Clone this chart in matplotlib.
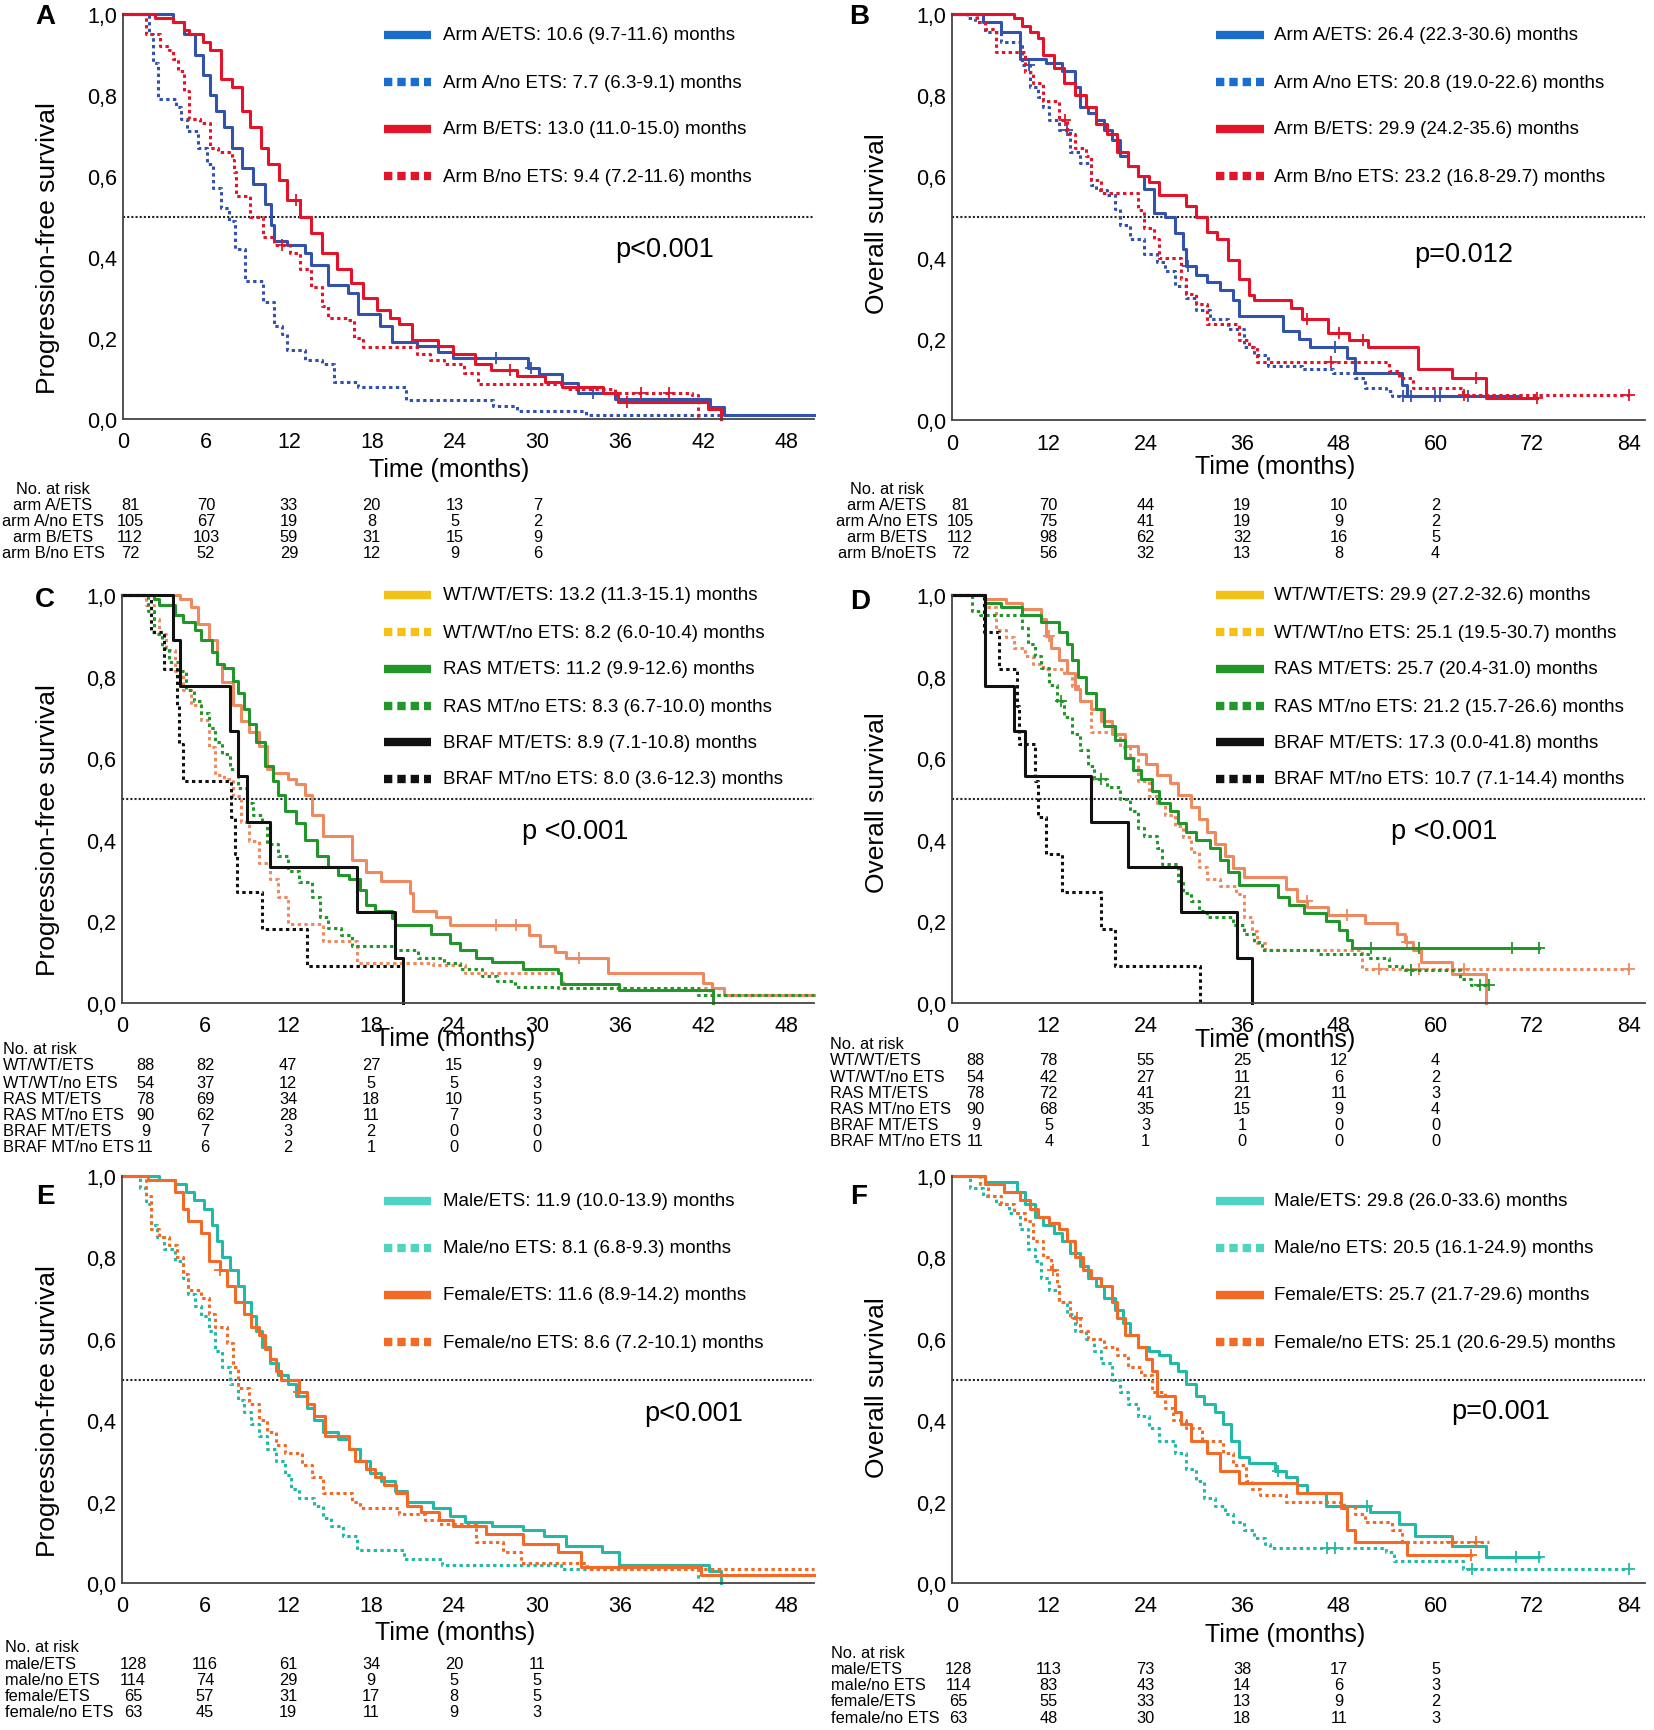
import matplotlib
matplotlib.use("Agg")
import matplotlib.pyplot as plt
from matplotlib.lines import Line2D
from matplotlib import transforms

W, H = 1654, 1731
plt.rcParams['font.family'] = ['Liberation Sans', 'DejaVu Sans']

# ---------------- Kaplan-Meier curves, (months, survival) -----------------
# Panel A: progression-free survival by arm / ETS
pfs_armA_ets = [(0, 1.0), (3.6, 0.98), (4.4, 0.95), (5.2, 0.90), (5.8, 0.85), (6.3, 0.80), (6.7, 0.76),
                (7.3, 0.72), (7.9, 0.67), (8.6, 0.62), (9.4, 0.58), (10.3, 0.53), (10.7, 0.48), (10.9, 0.44),
                (11.9, 0.43), (13.2, 0.41), (13.6, 0.38), (14.8, 0.33), (16.3, 0.31), (17.0, 0.26), (18.6, 0.23),
                (19.5, 0.19), (21.3, 0.18), (22.8, 0.165), (23.9, 0.15), (29.3, 0.125), (30.1, 0.11), (31.8, 0.09),
                (32.9, 0.065), (35.6, 0.05), (42.5, 0.03), (43.5, 0.01), (50.0, 0.01)]
pfs_armA_noets = [(0, 1.0), (1.9, 0.95), (2.2, 0.88), (2.5, 0.79), (3.8, 0.77), (4.2, 0.74), (4.6, 0.71),
                  (5.4, 0.67), (6.1, 0.63), (6.5, 0.57), (7.1, 0.52), (7.7, 0.49), (8.1, 0.42), (8.8, 0.34),
                  (10.1, 0.29), (10.9, 0.23), (11.5, 0.21), (11.9, 0.17), (13.2, 0.146), (14.4, 0.137),
                  (15.3, 0.092), (17.0, 0.078), (20.5, 0.047), (26.8, 0.033), (28.5, 0.02), (33.5, 0.011), (50.0, 0.011)]
pfs_armB_ets = [(0, 1.0), (2.3, 0.99), (3.6, 0.98), (4.4, 0.96), (4.8, 0.95), (5.8, 0.93), (6.3, 0.91),
                (7.1, 0.84), (7.9, 0.82), (8.6, 0.76), (9.2, 0.72), (10.0, 0.67), (10.5, 0.63), (11.3, 0.59),
                (11.9, 0.54), (12.8, 0.50), (13.6, 0.46), (14.4, 0.41), (15.5, 0.37), (16.5, 0.335), (17.4, 0.30),
                (18.4, 0.27), (19.3, 0.25), (20.0, 0.235), (20.9, 0.195), (22.8, 0.18), (23.9, 0.16), (25.5, 0.137),
                (26.6, 0.12), (28.5, 0.105), (30.5, 0.092), (31.8, 0.078), (34.7, 0.065), (35.8, 0.042),
                (42.3, 0.024), (43.3, 0.0)]
pfs_armB_noets = [(0, 1.0), (1.7, 0.95), (2.7, 0.92), (3.3, 0.91), (3.6, 0.89), (4.0, 0.86), (4.4, 0.81),
                  (4.8, 0.74), (5.6, 0.73), (6.3, 0.67), (6.9, 0.66), (7.9, 0.64), (8.0, 0.61), (8.2, 0.55),
                  (9.2, 0.50), (10.1, 0.45), (10.9, 0.43), (12.1, 0.41), (12.8, 0.37), (13.6, 0.325), (14.4, 0.28),
                  (14.8, 0.25), (16.3, 0.245), (16.7, 0.20), (17.4, 0.177), (21.3, 0.16), (22.2, 0.146),
                  (23.2, 0.137), (24.7, 0.114), (25.7, 0.087), (32.0, 0.074), (35.6, 0.065), (41.2, 0.06), (41.6, 0.0)]

# Panel B: overall survival by arm / ETS
os_armA_ets = [(0, 1.0), (3.8, 0.98), (6.1, 0.955), (8.4, 0.89), (11.7, 0.88), (13.6, 0.86), (15.3, 0.82),
               (15.9, 0.77), (16.9, 0.755), (17.9, 0.74), (18.9, 0.714), (19.8, 0.69), (20.8, 0.65), (21.8, 0.625),
               (23.1, 0.60), (23.8, 0.57), (25.1, 0.51), (26.4, 0.50), (27.7, 0.46), (28.7, 0.42), (29.0, 0.38),
               (30.3, 0.357), (31.6, 0.34), (33.3, 0.32), (34.9, 0.295), (35.6, 0.255), (41.1, 0.22), (43.1, 0.20),
               (44.4, 0.18), (49.0, 0.152), (50.0, 0.116), (55.9, 0.085), (56.5, 0.058), (70.3, 0.058)]
os_armA_noets = [(0, 1.0), (1.8, 0.99), (2.8, 0.98), (4.1, 0.955), (6.1, 0.93), (8.7, 0.875), (9.7, 0.82),
                 (10.7, 0.795), (11.3, 0.77), (12.0, 0.74), (13.3, 0.714), (14.6, 0.66), (15.9, 0.634),
                 (17.2, 0.58), (17.9, 0.567), (19.2, 0.554), (20.2, 0.52), (20.8, 0.48), (22.1, 0.446),
                 (23.8, 0.41), (25.4, 0.39), (26.4, 0.366), (27.7, 0.33), (29.0, 0.30), (30.3, 0.27), (32.0, 0.25),
                 (34.2, 0.223), (36.2, 0.18), (37.5, 0.16), (39.2, 0.134), (43.4, 0.125), (47.3, 0.116),
                 (50.0, 0.103), (51.3, 0.08), (53.9, 0.071), (54.6, 0.058), (63.1, 0.058)]
os_armB_ets = [(0, 1.0), (7.7, 0.99), (8.7, 0.97), (9.7, 0.955), (10.7, 0.94), (11.3, 0.90), (12.6, 0.866),
               (13.9, 0.83), (15.3, 0.80), (16.6, 0.77), (17.9, 0.73), (19.2, 0.705), (20.5, 0.66), (21.8, 0.625),
               (23.1, 0.60), (24.4, 0.585), (25.7, 0.554), (29.0, 0.527), (30.3, 0.50), (31.6, 0.464),
               (32.9, 0.446), (34.2, 0.393), (35.6, 0.348), (36.9, 0.308), (37.5, 0.295), (42.1, 0.277),
               (43.4, 0.25), (46.7, 0.214), (49.3, 0.196), (51.6, 0.179), (57.8, 0.125), (62.1, 0.103),
               (66.3, 0.054), (72.6, 0.054)]
os_armB_noets = [(0, 1.0), (3.1, 0.98), (4.1, 0.964), (5.4, 0.906), (9.0, 0.857), (10.0, 0.83), (11.3, 0.786),
                 (13.3, 0.74), (14.3, 0.705), (15.3, 0.67), (16.6, 0.65), (17.2, 0.59), (18.5, 0.56),
                 (23.1, 0.518), (23.8, 0.473), (25.1, 0.446), (25.7, 0.40), (28.4, 0.348), (29.0, 0.31),
                 (30.3, 0.286), (31.6, 0.237), (35.6, 0.196), (36.9, 0.179), (37.9, 0.143), (54.2, 0.12),
                 (55.5, 0.103), (57.2, 0.08), (63.4, 0.0625), (84.0, 0.0625)]

# Panel C: PFS by mutation status / ETS
pfs_wt_ets = [(0, 1.0), (4.2, 0.99), (5.0, 0.97), (5.5, 0.93), (6.3, 0.89), (6.9, 0.83), (7.25, 0.786),
              (8.0, 0.73), (8.6, 0.69), (9.2, 0.665), (9.9, 0.63), (10.5, 0.573), (10.9, 0.564), (12.0, 0.55),
              (12.6, 0.536), (13.2, 0.51), (13.7, 0.46), (14.5, 0.41), (16.6, 0.35), (17.6, 0.32), (18.7, 0.30),
              (20.8, 0.27), (21.0, 0.226), (22.7, 0.21), (23.7, 0.19), (29.4, 0.166), (30.2, 0.14), (31.3, 0.125),
              (32.1, 0.11), (35.1, 0.074), (42.0, 0.05), (42.6, 0.037), (43.5, 0.02), (50.0, 0.02)]
pfs_wt_noets = [(0, 1.0), (1.7, 0.975), (2.3, 0.94), (2.7, 0.905), (3.2, 0.864), (3.8, 0.813), (4.4, 0.767),
                (5.0, 0.73), (5.7, 0.693), (6.3, 0.628), (6.7, 0.56), (7.4, 0.55), (8.0, 0.508), (8.6, 0.444),
                (9.2, 0.397), (9.9, 0.342), (10.7, 0.305), (11.3, 0.26), (12.0, 0.194), (14.5, 0.152),
                (17.0, 0.097), (22.5, 0.092), (24.8, 0.074), (31.7, 0.06), (31.9, 0.037), (42.5, 0.02), (50.0, 0.02)]
pfs_ras_ets = [(0, 1.0), (2.3, 0.99), (2.7, 0.975), (3.8, 0.95), (4.4, 0.933), (5.3, 0.915), (5.7, 0.89),
               (6.5, 0.86), (6.9, 0.83), (7.4, 0.82), (8.0, 0.79), (8.4, 0.76), (8.8, 0.72), (9.2, 0.684),
               (9.7, 0.64), (10.3, 0.58), (10.9, 0.545), (11.3, 0.51), (11.8, 0.47), (12.6, 0.44), (13.2, 0.40),
               (14.1, 0.36), (14.9, 0.333), (15.6, 0.314), (16.4, 0.305), (17.2, 0.277), (17.6, 0.24),
               (18.3, 0.226), (19.5, 0.208), (19.7, 0.19), (22.3, 0.17), (23.7, 0.148), (24.4, 0.13),
               (25.6, 0.11), (26.7, 0.10), (29.0, 0.083), (31.5, 0.074), (31.7, 0.046), (35.9, 0.032), (42.7, 0.0)]
pfs_ras_noets = [(0, 1.0), (1.9, 0.96), (2.3, 0.905), (2.9, 0.87), (3.4, 0.836), (4.2, 0.813), (4.6, 0.767),
                 (5.2, 0.74), (5.7, 0.71), (6.3, 0.675), (6.7, 0.64), (7.25, 0.61), (7.8, 0.573), (8.4, 0.527),
                 (9.0, 0.49), (9.5, 0.462), (10.1, 0.444), (10.5, 0.39), (11.3, 0.36), (12.0, 0.323),
                 (12.8, 0.296), (13.7, 0.26), (14.3, 0.21), (14.9, 0.185), (15.8, 0.166), (16.6, 0.14),
                 (19.7, 0.13), (21.4, 0.11), (23.3, 0.097), (24.4, 0.083), (26.0, 0.065), (27.1, 0.055),
                 (28.4, 0.04), (31.5, 0.037), (41.6, 0.02), (50.0, 0.02)]
pfs_braf_ets = [(0, 1.0), (3.7, 0.889), (4.2, 0.778), (7.8, 0.667), (8.4, 0.556), (9.0, 0.444),
                (10.7, 0.333), (17.0, 0.222), (19.7, 0.111), (20.3, 0.0)]
pfs_braf_noets = [(0, 1.0), (2.1, 0.909), (3.0, 0.818), (4.0, 0.727), (4.1, 0.636), (4.4, 0.545), (7.9, 0.455),
                  (8.2, 0.364), (8.3, 0.273), (10.1, 0.182), (13.4, 0.091), (20.2, 0.091)]

# Panel D: OS by mutation status / ETS
os_wt_ets = [(0, 1.0), (4.1, 0.99), (6.7, 0.98), (8.7, 0.965), (11.0, 0.94), (11.7, 0.90), (12.3, 0.87),
             (13.3, 0.84), (14.3, 0.81), (15.3, 0.77), (15.9, 0.74), (17.2, 0.72), (18.5, 0.69), (19.8, 0.66),
             (21.5, 0.63), (23.1, 0.61), (24.1, 0.585), (25.4, 0.56), (27.0, 0.54), (28.0, 0.51), (29.7, 0.48),
             (30.6, 0.45), (31.6, 0.42), (32.6, 0.39), (33.9, 0.36), (34.9, 0.33), (36.2, 0.31), (41.5, 0.28),
             (42.8, 0.25), (44.1, 0.235), (46.7, 0.215), (51.3, 0.195), (55.2, 0.17), (56.2, 0.15),
             (57.2, 0.13), (58.2, 0.10), (62.1, 0.07), (66.3, 0.0)]
os_wt_noets = [(0, 1.0), (4.1, 0.97), (5.4, 0.915), (6.7, 0.896), (7.7, 0.869), (9.0, 0.85), (10.0, 0.83),
               (11.3, 0.818), (13.9, 0.81), (14.9, 0.776), (15.9, 0.74), (17.2, 0.665), (19.8, 0.656),
               (20.8, 0.628), (22.1, 0.60), (23.1, 0.545), (24.4, 0.508), (25.4, 0.49), (26.4, 0.462),
               (27.7, 0.434), (28.7, 0.407), (29.7, 0.37), (30.6, 0.333), (31.6, 0.305), (33.3, 0.287),
               (35.2, 0.268), (36.2, 0.21), (37.2, 0.176), (37.9, 0.148), (38.8, 0.13), (50.9, 0.083), (84.0, 0.083)]
os_ras_ets = [(0, 1.0), (4.1, 0.98), (6.1, 0.97), (8.7, 0.95), (11.0, 0.935), (13.3, 0.91), (14.3, 0.88),
              (14.9, 0.84), (15.6, 0.80), (16.6, 0.76), (17.9, 0.72), (18.9, 0.68), (20.2, 0.645), (21.5, 0.60),
              (22.5, 0.57), (23.4, 0.55), (24.8, 0.52), (25.7, 0.49), (27.0, 0.47), (28.0, 0.44), (29.0, 0.42),
              (30.3, 0.40), (32.0, 0.38), (33.3, 0.35), (34.2, 0.32), (35.6, 0.29), (40.5, 0.26), (41.8, 0.24),
              (43.7, 0.22), (46.4, 0.20), (48.0, 0.18), (49.0, 0.155), (49.6, 0.135), (72.9, 0.135)]
os_ras_noets = [(0, 1.0), (2.5, 0.96), (3.5, 0.95), (8.7, 0.92), (9.4, 0.88), (10.3, 0.85), (11.0, 0.82),
                (12.0, 0.78), (13.0, 0.74), (13.9, 0.70), (14.9, 0.66), (15.9, 0.62), (16.9, 0.58), (17.6, 0.55),
                (19.2, 0.53), (20.8, 0.50), (22.1, 0.47), (23.1, 0.43), (23.8, 0.41), (25.4, 0.38), (26.1, 0.34),
                (28.0, 0.30), (28.7, 0.27), (29.7, 0.25), (30.6, 0.225), (31.6, 0.21), (34.9, 0.19), (36.2, 0.17),
                (37.5, 0.15), (38.5, 0.13), (45.4, 0.12), (51.6, 0.11), (54.2, 0.09), (55.9, 0.08), (63.1, 0.06),
                (64.4, 0.045), (66.7, 0.045)]
os_braf_ets = [(0, 1.0), (4.1, 0.778), (7.7, 0.667), (9.0, 0.556), (17.2, 0.444), (21.8, 0.333),
               (28.4, 0.222), (35.4, 0.111), (37.2, 0.0)]
os_braf_noets = [(0, 1.0), (4.0, 0.909), (5.8, 0.818), (8.1, 0.727), (8.3, 0.636), (10.3, 0.545), (10.7, 0.455),
                 (11.7, 0.364), (13.6, 0.273), (18.5, 0.182), (20.2, 0.091), (30.8, 0.0)]

# Panel E: PFS by sex / ETS
pfs_male_ets = [(0, 1.0), (2.7, 0.99), (3.8, 0.98), (4.6, 0.96), (5.2, 0.94), (5.9, 0.92), (6.5, 0.88),
                (6.9, 0.84), (7.25, 0.80), (7.8, 0.77), (8.4, 0.73), (8.8, 0.69), (9.35, 0.655), (9.7, 0.62),
                (10.1, 0.58), (10.7, 0.54), (11.3, 0.51), (12.0, 0.49), (12.6, 0.46), (13.4, 0.43), (13.9, 0.40),
                (14.5, 0.37), (15.6, 0.355), (16.4, 0.33), (17.2, 0.30), (17.9, 0.27), (18.7, 0.25), (19.7, 0.225),
                (20.6, 0.20), (22.5, 0.185), (23.7, 0.165), (24.8, 0.15), (26.7, 0.14), (29.0, 0.13),
                (30.5, 0.115), (32.1, 0.09), (34.7, 0.075), (35.9, 0.045), (42.4, 0.03), (43.3, 0.0)]
pfs_male_noets = [(0, 1.0), (1.3, 0.97), (1.7, 0.93), (2.1, 0.88), (2.5, 0.85), (3.05, 0.82), (3.8, 0.79),
                  (4.4, 0.75), (4.8, 0.71), (5.3, 0.68), (5.7, 0.655), (6.3, 0.62), (6.7, 0.57), (7.25, 0.53),
                  (7.8, 0.49), (8.4, 0.45), (8.8, 0.42), (9.35, 0.39), (9.9, 0.36), (10.5, 0.33), (11.1, 0.30),
                  (11.8, 0.265), (12.2, 0.23), (12.8, 0.21), (13.9, 0.19), (14.5, 0.16), (15.1, 0.14),
                  (16.0, 0.115), (17.0, 0.08), (20.4, 0.06), (23.1, 0.045), (31.7, 0.035), (41.6, 0.0)]
pfs_female_ets = [(0, 1.0), (1.9, 0.99), (3.8, 0.96), (4.4, 0.92), (4.8, 0.89), (5.7, 0.86), (6.3, 0.79),
                  (7.1, 0.77), (7.6, 0.73), (8.2, 0.69), (8.8, 0.66), (9.35, 0.63), (9.9, 0.61), (10.3, 0.575),
                  (10.7, 0.55), (11.1, 0.52), (11.5, 0.50), (12.8, 0.47), (13.4, 0.44), (13.9, 0.41), (14.7, 0.36),
                  (16.4, 0.33), (16.8, 0.30), (17.6, 0.28), (18.3, 0.26), (18.9, 0.24), (19.8, 0.22), (20.6, 0.19),
                  (21.6, 0.175), (22.9, 0.155), (23.9, 0.14), (26.3, 0.12), (29.0, 0.095), (31.5, 0.075),
                  (33.2, 0.04), (41.8, 0.02), (50.0, 0.02)]
pfs_female_noets = [(0, 1.0), (1.7, 0.95), (2.1, 0.87), (2.7, 0.85), (3.4, 0.83), (4.0, 0.80), (4.4, 0.76),
                    (4.8, 0.72), (5.7, 0.70), (6.3, 0.66), (6.7, 0.63), (7.6, 0.59), (8.0, 0.53), (8.4, 0.48),
                    (9.2, 0.44), (9.9, 0.40), (10.5, 0.37), (11.1, 0.34), (11.8, 0.32), (13.0, 0.29), (13.7, 0.26),
                    (14.5, 0.22), (16.6, 0.20), (17.2, 0.185), (20.0, 0.17), (21.9, 0.155), (22.9, 0.145),
                    (25.6, 0.10), (27.5, 0.075), (28.8, 0.05), (33.6, 0.035), (50.0, 0.035)]

# Panel F: OS by sex / ETS
os_male_ets = [(0, 1.0), (4.1, 0.985), (8.1, 0.96), (9.0, 0.93), (10.3, 0.90), (11.3, 0.88), (12.6, 0.86),
               (13.6, 0.84), (14.6, 0.81), (15.9, 0.78), (16.9, 0.75), (17.9, 0.73), (18.9, 0.70), (20.2, 0.67),
               (21.2, 0.64), (22.1, 0.61), (23.1, 0.58), (24.4, 0.57), (25.7, 0.56), (27.0, 0.54), (28.0, 0.52),
               (29.0, 0.49), (30.3, 0.46), (31.3, 0.44), (32.6, 0.42), (33.6, 0.39), (34.6, 0.35), (35.6, 0.31),
               (36.9, 0.295), (40.1, 0.275), (41.5, 0.26), (42.8, 0.24), (44.1, 0.22), (46.4, 0.19),
               (51.9, 0.175), (55.5, 0.145), (57.5, 0.115), (62.1, 0.09), (66.3, 0.065), (72.9, 0.065)]
os_male_noets = [(0, 1.0), (2.2, 0.97), (3.8, 0.95), (5.4, 0.93), (7.1, 0.91), (8.4, 0.87), (9.4, 0.82),
                 (10.3, 0.79), (11.0, 0.75), (12.0, 0.72), (13.3, 0.69), (14.3, 0.66), (15.3, 0.62), (16.6, 0.60),
                 (17.6, 0.57), (18.5, 0.54), (19.8, 0.50), (20.8, 0.47), (21.8, 0.44), (23.1, 0.41), (24.4, 0.38),
                 (25.7, 0.35), (27.7, 0.32), (29.0, 0.28), (30.3, 0.25), (31.3, 0.21), (32.6, 0.19), (33.9, 0.17),
                 (34.9, 0.15), (36.2, 0.13), (37.5, 0.11), (38.8, 0.095), (39.5, 0.085), (53.9, 0.075),
                 (54.9, 0.055), (63.4, 0.035), (84.0, 0.035)]
os_female_ets = [(0, 1.0), (4.1, 0.98), (6.4, 0.96), (8.4, 0.94), (9.7, 0.92), (10.7, 0.90), (12.0, 0.885),
                 (13.3, 0.87), (14.3, 0.84), (15.3, 0.80), (16.2, 0.77), (17.2, 0.75), (18.5, 0.73), (19.8, 0.69),
                 (20.5, 0.65), (21.5, 0.61), (23.1, 0.58), (24.1, 0.55), (24.8, 0.52), (25.4, 0.46), (27.7, 0.42),
                 (28.4, 0.39), (29.7, 0.35), (31.6, 0.32), (33.3, 0.275), (35.6, 0.245), (42.8, 0.22),
                 (48.3, 0.185), (49.0, 0.13), (50.0, 0.10), (56.5, 0.07), (64.4, 0.07)]
os_female_noets = [(0, 1.0), (3.5, 0.98), (4.5, 0.95), (6.1, 0.93), (7.7, 0.91), (9.0, 0.89), (10.0, 0.84),
                   (11.3, 0.80), (12.3, 0.77), (13.0, 0.73), (13.3, 0.69), (14.6, 0.65), (15.9, 0.62),
                   (16.9, 0.60), (18.9, 0.58), (20.5, 0.56), (21.8, 0.53), (23.5, 0.51), (24.8, 0.47),
                   (26.4, 0.43), (27.4, 0.40), (29.0, 0.38), (31.0, 0.35), (33.6, 0.32), (34.9, 0.29),
                   (36.5, 0.25), (37.2, 0.23), (38.2, 0.215), (41.5, 0.20), (48.7, 0.19), (50.0, 0.17),
                   (51.3, 0.15), (54.6, 0.13), (55.9, 0.10), (66.7, 0.10)]

# censored observations (months) shown as "+" on some curves
cens_pfs_armA_ets = [27.0, 29.5, 34.0]
cens_pfs_armB_ets = [12.5, 28.0, 36.5]
cens_pfs_armB_noets = [11.5, 37.5, 39.5]
cens_os_armA_ets = [29.3, 47.5, 57.0, 60.0, 64.0]
cens_os_armA_noets = [9.5, 14.3, 56.0, 60.5]
cens_os_armB_ets = [44.0, 48.0, 51.0, 65.0, 72.6]
cens_os_armB_noets = [14.0, 47.0, 63.5, 84.0]
cens_pfs_wt_ets = [27.0, 28.5, 33.0]
cens_os_wt_ets = [12.0, 44.0, 49.0, 56.5]
cens_os_wt_noets = [53.0, 58.0, 63.5, 84.0]
cens_os_ras_ets = [52.0, 58.0, 69.5, 72.9]
cens_os_ras_noets = [13.5, 18.5, 57.0, 65.5, 66.7]
cens_pfs_female_ets = [7.1, 12.8]
cens_os_male_ets = [40.5, 51.5, 70.0, 72.9]
cens_os_male_noets = [46.5, 47.5, 64.5, 84.0]
cens_os_female_ets = [64.4]
cens_os_female_noets = [12.5, 15.5, 62.0, 65.0]

# ---------------- legends, p values, risk tables -----------------
legend_A = ["Arm A/ETS: 10.6 (9.7-11.6) months", "Arm A/no ETS: 7.7 (6.3-9.1) months",
            "Arm B/ETS: 13.0 (11.0-15.0) months", "Arm B/no ETS: 9.4 (7.2-11.6) months"]
legend_B = ["Arm A/ETS: 26.4 (22.3-30.6) months", "Arm A/no ETS: 20.8 (19.0-22.6) months",
            "Arm B/ETS: 29.9 (24.2-35.6) months", "Arm B/no ETS: 23.2 (16.8-29.7) months"]
legend_C = ["WT/WT/ETS: 13.2 (11.3-15.1) months", "WT/WT/no ETS: 8.2 (6.0-10.4) months",
            "RAS MT/ETS: 11.2 (9.9-12.6) months", "RAS MT/no ETS: 8.3 (6.7-10.0) months",
            "BRAF MT/ETS: 8.9 (7.1-10.8) months", "BRAF MT/no ETS: 8.0 (3.6-12.3) months"]
legend_D = ["WT/WT/ETS: 29.9 (27.2-32.6) months", "WT/WT/no ETS: 25.1 (19.5-30.7) months",
            "RAS MT/ETS: 25.7 (20.4-31.0) months", "RAS MT/no ETS: 21.2 (15.7-26.6) months",
            "BRAF MT/ETS: 17.3 (0.0-41.8) months", "BRAF MT/no ETS: 10.7 (7.1-14.4) months"]
legend_E = ["Male/ETS: 11.9 (10.0-13.9) months", "Male/no ETS: 8.1 (6.8-9.3) months",
            "Female/ETS: 11.6 (8.9-14.2) months", "Female/no ETS: 8.6 (7.2-10.1) months"]
legend_F = ["Male/ETS: 29.8 (26.0-33.6) months", "Male/no ETS: 20.5 (16.1-24.9) months",
            "Female/ETS: 25.7 (21.7-29.6) months", "Female/no ETS: 25.1 (20.6-29.5) months"]
pvalues = ["p<0.001", "p=0.012", "p <0.001", "p <0.001", "p<0.001", "p=0.001"]

risk_times_pfs = [0, 6, 12, 18, 24, 30]
risk_times_os = [0, 12, 24, 36, 48, 60]
risk_labels_A = ["arm A/ETS", "arm A/no ETS", "arm B/ETS", "arm B/no ETS"]
risk_labels_B = ["arm A/ETS", "arm A/no ETS", "arm B/ETS", "arm B/noETS"]
risk_labels_CD = ["WT/WT/ETS", "WT/WT/no ETS", "RAS MT/ETS", "RAS MT/no ETS", "BRAF MT/ETS", "BRAF MT/no ETS"]
risk_labels_EF = ["male/ETS", "male/no ETS", "female/ETS", "female/no ETS"]
risk_A = [[81, 70, 33, 20, 13, 7], [105, 67, 19, 8, 5, 2], [112, 103, 59, 31, 15, 9], [72, 52, 29, 12, 9, 6]]
risk_B = [[81, 70, 44, 19, 10, 2], [105, 75, 41, 19, 9, 2], [112, 98, 62, 32, 16, 5], [72, 56, 32, 13, 8, 4]]
risk_C = [[88, 82, 47, 27, 15, 9], [54, 37, 12, 5, 5, 3], [78, 69, 34, 18, 10, 5], [90, 62, 28, 11, 7, 3],
          [9, 7, 3, 2, 0, 0], [11, 6, 2, 1, 0, 0]]
risk_D = [[88, 78, 55, 25, 12, 4], [54, 42, 27, 11, 6, 2], [78, 72, 41, 21, 11, 3], [90, 68, 35, 15, 9, 4],
          [9, 5, 3, 1, 0, 0], [11, 4, 1, 0, 0, 0]]
risk_E = [[128, 116, 61, 34, 20, 11], [114, 74, 29, 9, 5, 5], [65, 57, 31, 17, 8, 5], [63, 45, 19, 11, 9, 3]]
risk_F = [[128, 113, 73, 38, 17, 5], [114, 83, 43, 14, 6, 3], [65, 55, 33, 13, 9, 2], [63, 48, 30, 18, 11, 3]]

# colours
blue_leg, blue_line = '#1a6dcc', '#3352ac'
red = '#e3142a'
yellow_leg, wt_line = '#f4c217', '#ee8a60'
green = '#23962b'
black = '#111111'
teal_leg, teal_line = '#4fd3c2', '#22baa7'
orange = '#f26a25'

panels = [
    dict(letter='A', rect=(123, 15, 814, 420), xmax=50, ticks=range(0, 49, 6), ylabel='Progression-free survival',
         curves=[(pfs_armA_ets, blue_line, False, cens_pfs_armA_ets), (pfs_armA_noets, blue_line, True, []),
                 (pfs_armB_ets, red, False, cens_pfs_armB_ets), (pfs_armB_noets, red, True, cens_pfs_armB_noets)],
         legend=legend_A, leg_colors=[blue_leg, blue_leg, red, red], leg_y=[36, 83, 130, 177],
         p=pvalues[0], p_xy=(665, 250), letter_xy=(45, 17), ylab_xy=(48, 248), xlab_xy=(449, 470),
         risk=risk_A, risk_labels=risk_labels_A, rtimes=risk_times_pfs, r0=0.5,
         head_y=489, rows_y=[505, 521, 538, 554], lab_x=53, lab_ha='center'),
    dict(letter='B', rect=(952, 15, 1645, 421), xmax=86, ticks=range(0, 85, 12), ylabel='Overall survival',
         curves=[(os_armA_ets, blue_line, False, cens_os_armA_ets), (os_armA_noets, blue_line, True, cens_os_armA_noets),
                 (os_armB_ets, red, False, cens_os_armB_ets), (os_armB_noets, red, True, cens_os_armB_noets)],
         legend=legend_B, leg_colors=[blue_leg, blue_leg, red, red], leg_y=[36, 83, 130, 177],
         p=pvalues[1], p_xy=(1464, 255), letter_xy=(859, 17), ylab_xy=(877, 224), xlab_xy=(1275, 467),
         risk=risk_B, risk_labels=risk_labels_B, rtimes=risk_times_os, r0=1.0,
         head_y=489, rows_y=[505, 521, 538, 554], lab_x=887, lab_ha='center'),
    dict(letter='C', rect=(122, 596, 814, 1004), xmax=50, ticks=range(0, 49, 6), ylabel='Progression-free survival',
         curves=[(pfs_wt_ets, wt_line, False, cens_pfs_wt_ets), (pfs_wt_noets, wt_line, True, []),
                 (pfs_ras_ets, green, False, []), (pfs_ras_noets, green, True, []),
                 (pfs_braf_ets, black, False, []), (pfs_braf_noets, black, True, [])],
         legend=legend_C, leg_colors=[yellow_leg, yellow_leg, green, green, black, black],
         leg_y=[596, 633, 670, 707, 743, 780],
         p=pvalues[2], p_xy=(575, 832), letter_xy=(45, 600), ylab_xy=(48, 830), xlab_xy=(455, 1039),
         risk=risk_C, risk_labels=risk_labels_CD, rtimes=risk_times_pfs, r0=1.7,
         head_y=1050, rows_y=[1066, 1083, 1099, 1115, 1132, 1148], lab_x=3, lab_ha='left'),
    dict(letter='D', rect=(952, 596, 1645, 1004), xmax=86, ticks=range(0, 85, 12), ylabel='Overall survival',
         curves=[(os_wt_ets, wt_line, False, cens_os_wt_ets), (os_wt_noets, wt_line, True, cens_os_wt_noets),
                 (os_ras_ets, green, False, cens_os_ras_ets), (os_ras_noets, green, True, cens_os_ras_noets),
                 (os_braf_ets, black, False, []), (os_braf_noets, black, True, [])],
         legend=legend_D, leg_colors=[yellow_leg, yellow_leg, green, green, black, black],
         leg_y=[596, 633, 670, 707, 743, 780],
         p=pvalues[3], p_xy=(1444, 832), letter_xy=(860, 602), ylab_xy=(877, 803), xlab_xy=(1275, 1040),
         risk=risk_D, risk_labels=risk_labels_CD, rtimes=risk_times_os, r0=2.9,
         head_y=1045, rows_y=[1061, 1078, 1094, 1110, 1126, 1142], lab_x=830, lab_ha='left'),
    dict(letter='E', rect=(122, 1177, 814, 1584), xmax=50, ticks=range(0, 49, 6), ylabel='Progression-free survival',
         curves=[(pfs_male_ets, teal_line, False, []), (pfs_male_noets, teal_line, True, []),
                 (pfs_female_ets, orange, False, cens_pfs_female_ets), (pfs_female_noets, orange, True, [])],
         legend=legend_E, leg_colors=[teal_leg, teal_leg, orange, orange], leg_y=[1202, 1249, 1296, 1343],
         p=pvalues[4], p_xy=(694, 1414), letter_xy=(45, 1197), ylab_xy=(48, 1411), xlab_xy=(455, 1633),
         risk=risk_E, risk_labels=risk_labels_EF, rtimes=risk_times_pfs, r0=0.8,
         head_y=1648, rows_y=[1665, 1681, 1697, 1713], lab_x=5, lab_ha='left'),
    dict(letter='F', rect=(952, 1177, 1645, 1584), xmax=86, ticks=range(0, 85, 12), ylabel='Overall survival',
         curves=[(os_male_ets, teal_line, False, cens_os_male_ets), (os_male_noets, teal_line, True, cens_os_male_noets),
                 (os_female_ets, orange, False, cens_os_female_ets),
                 (os_female_noets, orange, True, cens_os_female_noets)],
         legend=legend_F, leg_colors=[teal_leg, teal_leg, orange, orange], leg_y=[1202, 1249, 1296, 1343],
         p=pvalues[5], p_xy=(1501, 1412), letter_xy=(859, 1197), ylab_xy=(877, 1388), xlab_xy=(1285, 1635),
         risk=risk_F, risk_labels=risk_labels_EF, rtimes=risk_times_os, r0=0.8,
         head_y=1654, rows_y=[1670, 1686, 1702, 1719], lab_x=831, lab_ha='left'),
]

fig = plt.figure(figsize=(W / 100, H / 100), dpi=100)


def fx(x):
    return x / W


def fy(y):
    return 1 - y / H


def surv_at(pts, tm):
    val = pts[0][1]
    for t0, s0 in pts:
        if t0 <= tm:
            val = s0
    return val


for pan in panels:
    l, t, r, b = pan['rect']
    ax = fig.add_axes([fx(l), fy(b), (r - l) / W, (b - t) / H])
    ax.set_xlim(0, pan['xmax'])
    ax.set_ylim(0, 1.0)
    ax.set_xticks(list(pan['ticks']))
    ax.set_yticks([0, 0.2, 0.4, 0.6, 0.8, 1.0])
    ax.set_yticklabels(['0,0', '0,2', '0,4', '0,6', '0,8', '1,0'])
    ax.tick_params(length=0, labelsize=15.5, pad=4)
    ax.tick_params(axis='x', pad=9)
    for side in ['top', 'right']:
        ax.spines[side].set_visible(False)
    for side in ['left', 'bottom']:
        ax.spines[side].set_color('#444444')
        ax.spines[side].set_linewidth(1.3)

    ax.axhline(0.5, color='#222222', lw=1.5, ls=(0, (1, 1)))

    for pts, col, dotted, cens in pan['curves']:
        tt = [p[0] for p in pts]
        ss = [p[1] for p in pts]
        ls = (0, (1.1, 1.1)) if dotted else '-'
        ax.step(tt, ss, where='post', color=col, lw=2.2, ls=ls, clip_on=False)
        if cens:
            ax.plot(cens, [surv_at(pts, c) for c in cens], ls='none', marker='+', ms=9, mew=1.3,
                    color=col, clip_on=False)

    # legend drawn by hand
    lx0, lx1, tx = (384, 431, 443) if l < 500 else (1216, 1264, 1274)
    for k, (lab, col, yy) in enumerate(zip(pan['legend'], pan['leg_colors'], pan['leg_y'])):
        ln = Line2D([fx(lx0), fx(lx1)], [fy(yy), fy(yy)], transform=fig.transFigure, color=col, lw=6,
                    solid_capstyle='butt', dash_capstyle='butt')
        if k % 2 == 1:
            ln.set_dashes((1.0, 0.6))
        fig.add_artist(ln)
        fig.text(fx(tx), fy(yy), lab, fontsize=13.5, va='center', ha='left')

    fig.text(fx(pan['p_xy'][0]), fy(pan['p_xy'][1]), pan['p'], fontsize=19.5, ha='center', va='center')
    fig.text(fx(pan['letter_xy'][0]), fy(pan['letter_xy'][1]), pan['letter'], fontsize=20,
             fontweight='bold', ha='center', va='center')
    fig.text(fx(pan['ylab_xy'][0]), fy(pan['ylab_xy'][1]), pan['ylabel'], fontsize=19, rotation=90,
             ha='center', va='center')
    fig.text(fx(pan['xlab_xy'][0]), fy(pan['xlab_xy'][1]), 'Time (months)', fontsize=18,
             ha='center', va='center')

    # number at risk table
    trans = transforms.blended_transform_factory(ax.transData, fig.transFigure)
    fig.text(fx(pan['lab_x']), fy(pan['head_y']), 'No. at risk', fontsize=11.8, ha=pan['lab_ha'], va='center')
    for lab, row, yy in zip(pan['risk_labels'], pan['risk'], pan['rows_y']):
        fig.text(fx(pan['lab_x']), fy(yy), lab, fontsize=11.8, ha=pan['lab_ha'], va='center')
        for j, (tm, n) in enumerate(zip(pan['rtimes'], row)):
            xpos = pan['r0'] if j == 0 else tm
            ax.text(xpos, fy(yy), str(n), transform=trans, fontsize=11.8, ha='center', va='center',
                    clip_on=False)

fig.savefig('out.png', dpi=100)
